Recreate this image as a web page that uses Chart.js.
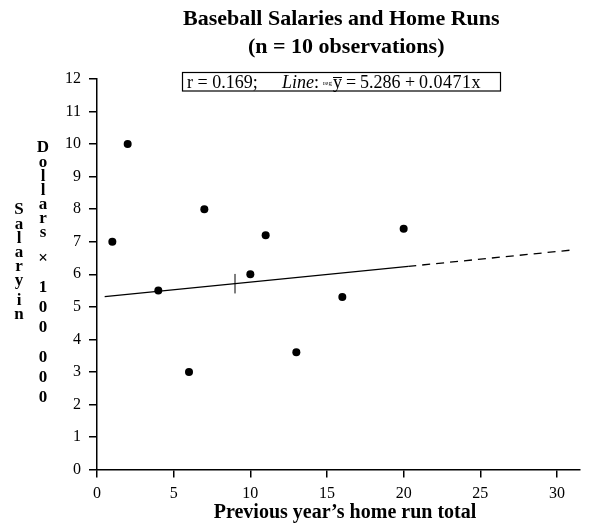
<!DOCTYPE html>
<html><head><meta charset="utf-8">
<script src="https://cdn.jsdelivr.net/npm/chart.js@4"></script>
<style>html,body{margin:0;padding:0;background:#fff}#wrap{width:592px;height:527px}</style>
</head><body><div id="wrap"><canvas id="c" width="592" height="527"></canvas></div>
<script>
// ---- data ----
const homeRuns = [1, 2, 4, 6, 7, 10, 11, 13, 16, 20];
const salaries = [7.0, 10.0, 5.5, 3.0, 8.0, 6.0, 7.2, 3.6, 5.3, 7.4];
const xTickValues = [0, 5, 10, 15, 20, 25, 30];
const yTickValues = [0, 1, 2, 3, 4, 5, 6, 7, 8, 9, 10, 11, 12];
const regIntercept = 5.286;
const regSlope = 0.0471;
const corrR = 0.169;
const fitSolidRange = [0.5, 20.3];
const fitDashedRange = [20.3, 31];
const meanX = 9;
const meanMarkerHalf = 0.3;
const titleLines = ['Baseball Salaries and Home Runs', '(n = 10 observations)'];
const xTitle = 'Previous year\u2019s home run total';
const yTitleCol1 = 'Salary in';
const yTitleCol2 = 'Dollars \u00d7 100 000';

const SERIF = '"Liberation Serif", "Times New Roman", serif';
const fitY = x => regIntercept + regSlope * x;

const scatterData = homeRuns.map((x, i) => ({x, y: salaries[i]}));
const solidLine = fitSolidRange.map(x => ({x, y: fitY(x)}));
const dashedLine = fitDashedRange.map(x => ({x, y: fitY(x)}));
const meanMarker = [{x: meanX, y: fitY(meanX) - meanMarkerHalf}, {x: meanX, y: fitY(meanX) + meanMarkerHalf}];

function drawStack(ctx, text, x, yFirst, spaceAdv, digitAdv) {
  const adv = c => {
    if (c === ' ') return spaceAdv;
    if (c === '\u00d7') return 18;
    if (c >= 'a' && c <= 'z') return 14;
    if (c >= '0' && c <= '9') return digitAdv;
    return 16;
  };
  let y = yFirst, prev = null;
  for (const c of text) {
    if (prev !== null) y += (adv(prev) + adv(c)) / 2;
    if (c !== ' ') ctx.fillText(c, x, y);
    prev = c;
  }
}

const textPlugin = {
  id: 'texts',
  afterDraw(chart) {
    const ctx = chart.ctx;
    ctx.save();
    ctx.fillStyle = '#000';
    ctx.strokeStyle = '#000';
    // title
    ctx.font = 'bold 22px ' + SERIF;
    ctx.textAlign = 'left';
    ctx.textBaseline = 'alphabetic';
    ctx.fillText(titleLines[0], 183, 25);
    ctx.fillText(titleLines[1], 248, 53);
    // stat box
    ctx.lineWidth = 1.2;
    ctx.strokeRect(182.5, 72.5, 318, 18.5);
    ctx.font = '18px ' + SERIF;
    ctx.fillText('r = ' + corrR.toFixed(3) + ';', 187, 88);
    ctx.font = 'italic 18px ' + SERIF;
    ctx.fillText('Line', 282, 88);
    const lx = 282 + ctx.measureText('Line').width;
    ctx.font = '18px ' + SERIF;
    ctx.fillText(':', lx, 88);
    ctx.font = '7px ' + SERIF;
    ctx.fillText('reg', 323, 85);
    ctx.font = '18px ' + SERIF;
    ctx.fillText('y', 333, 88);
    const yw = ctx.measureText('y').width;
    ctx.lineWidth = 1;
    ctx.beginPath(); ctx.moveTo(333, 77.5); ctx.lineTo(333 + yw, 77.5); ctx.stroke();
    ctx.fillText('=', 346, 88);
    ctx.fillText(regIntercept.toFixed(3), 360, 88);
    ctx.fillText('+', 405, 88);
    ctx.letterSpacing = '0.5px';
    ctx.fillText(regSlope.toFixed(4) + 'x', 419, 88);
    ctx.letterSpacing = '0px';
    // x title
    ctx.font = 'bold 20px ' + SERIF;
    ctx.textAlign = 'center';
    ctx.fillText(xTitle, 345, 518);
    // y title stacked
    ctx.font = 'bold 17px ' + SERIF;
    ctx.textBaseline = 'middle';
    drawStack(ctx, yTitleCol1, 19, 210, 6, 18);
    drawStack(ctx, yTitleCol2, 43, 148, 10, 20);
    ctx.restore();
  }
};

new Chart(document.getElementById('c'), {
  type: 'scatter',
  data: {
    datasets: [
      {data: scatterData, backgroundColor: '#000', borderWidth: 0, pointRadius: 4, pointHoverRadius: 4},
      {type: 'line', data: solidLine, borderColor: '#000', borderWidth: 1.3, pointRadius: 0, fill: false, showLine: true},
      {type: 'line', data: dashedLine, borderColor: '#000', borderWidth: 1.3, borderDash: [8, 6], pointRadius: 0, fill: false, showLine: true},
      {type: 'line', data: meanMarker, borderColor: '#000', borderWidth: 1, pointRadius: 0, fill: false, showLine: true}
    ]
  },
  options: {
    responsive: false,
    devicePixelRatio: 1,
    animation: false,
    events: [],
    layout: {padding: {left: 0, right: 12, top: 79, bottom: 0}},
    plugins: {legend: {display: false}, title: {display: false}, tooltip: {enabled: false}},
    scales: {
      x: {
        type: 'linear', min: 0, max: 31.5,
        afterBuildTicks: s => { s.ticks = xTickValues.map(v => ({value: v})); },
        afterFit: s => { s.height = 57.5; s.paddingLeft = 0; s.paddingRight = 0; },
        border: {display: true, color: '#000', width: 1.5},
        grid: {display: true, drawOnChartArea: false, drawTicks: true, tickLength: 8, color: '#000', lineWidth: 1.5},
        ticks: {color: '#000', font: {family: SERIF, size: 16}, padding: 7, maxRotation: 0, autoSkip: false}
      },
      y: {
        type: 'linear', min: 0, max: 12,
        afterBuildTicks: s => { s.ticks = yTickValues.map(v => ({value: v})); },
        afterFit: s => { s.width = 97; s.paddingTop = 0; s.paddingBottom = 0; },
        border: {display: true, color: '#000', width: 1.5},
        grid: {display: true, drawOnChartArea: false, drawTicks: true, tickLength: 8, color: '#000', lineWidth: 1.5},
        ticks: {color: '#000', font: {family: SERIF, size: 16}, padding: 8, autoSkip: false}
      }
    }
  },
  plugins: [textPlugin]
});
</script>
</body></html>
